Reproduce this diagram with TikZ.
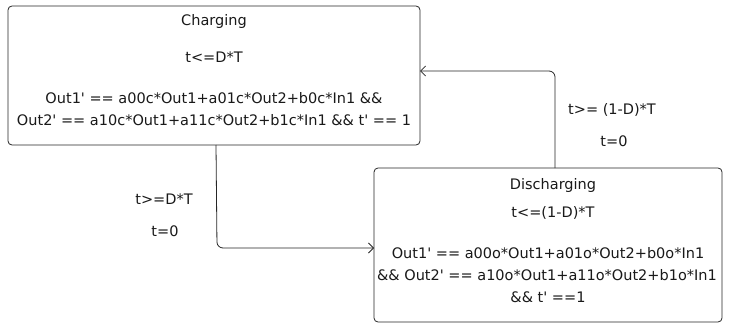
\documentclass[tikz,border=0pt]{standalone}
\usepackage{fontspec}
\setmainfont{DejaVu Sans}[Ligatures=TeXOff]
\usetikzlibrary{arrows.meta}
\begin{document}
\begin{tikzpicture}[x=1pt,y=-1pt,
  state/.style={draw=black!85, line width=0.8pt, rounded corners=4pt},
  txt/.style={font=\fontsize{14.5pt}{16pt}\selectfont, inner sep=0pt, text=black!90},
  conn/.style={draw=black!85, line width=0.8pt, rounded corners=6pt, -{Straight Barb[length=5pt,width=10pt]}}]
\useasboundingbox (0,0) rectangle (730,326);
% boxes
\draw[state] (8,6) rectangle (420,145);
\coordinate (cS) at (216,145);
\coordinate (cE) at (420,71);
\draw[state] (374,168) rectangle (722,322);
\coordinate (dW) at (374,248);
\coordinate (dN) at (555,168);
% texts
\node[txt] (c1) at (214,22) {Charging};
\node[txt] (c2) at (214,57) {t<=D*T};
\node[txt] (c3) at (214,98) {Out1' == a00c*Out1+a01c*Out2+b0c*In1 \&\&};
\node[txt] (c4) at (214,120) {Out2' == a10c*Out1+a11c*Out2+b1c*In1 \&\& t' == 1};
\node[txt] (d1) at (553,185) {Discharging};
\node[txt] (d2) at (553,213) {t<=(1-D)*T};
\node[txt] (d3) at (548,253) {Out1' == a00o*Out1+a01o*Out2+b0o*In1};
\node[txt] (d4) at (547,275) {\&\& Out2' == a10o*Out1+a11o*Out2+b1o*In1};
\node[txt] (d5) at (548,297) {\&\& t' ==1};
% labels
\node[txt] (l1) at (164,199) {t>=D*T};
\node[txt] (l2) at (165,231) {t=0};
\node[txt] (l3) at (612,110) {t>= (1-D)*T};
\node[txt] (l4) at (614,141) {t=0};
% connectors
\draw[conn] (cS) -- (217,248) -- (dW);
\draw[conn] (dN) -- (555,71) -- (cE);
\end{tikzpicture}
\end{document}
